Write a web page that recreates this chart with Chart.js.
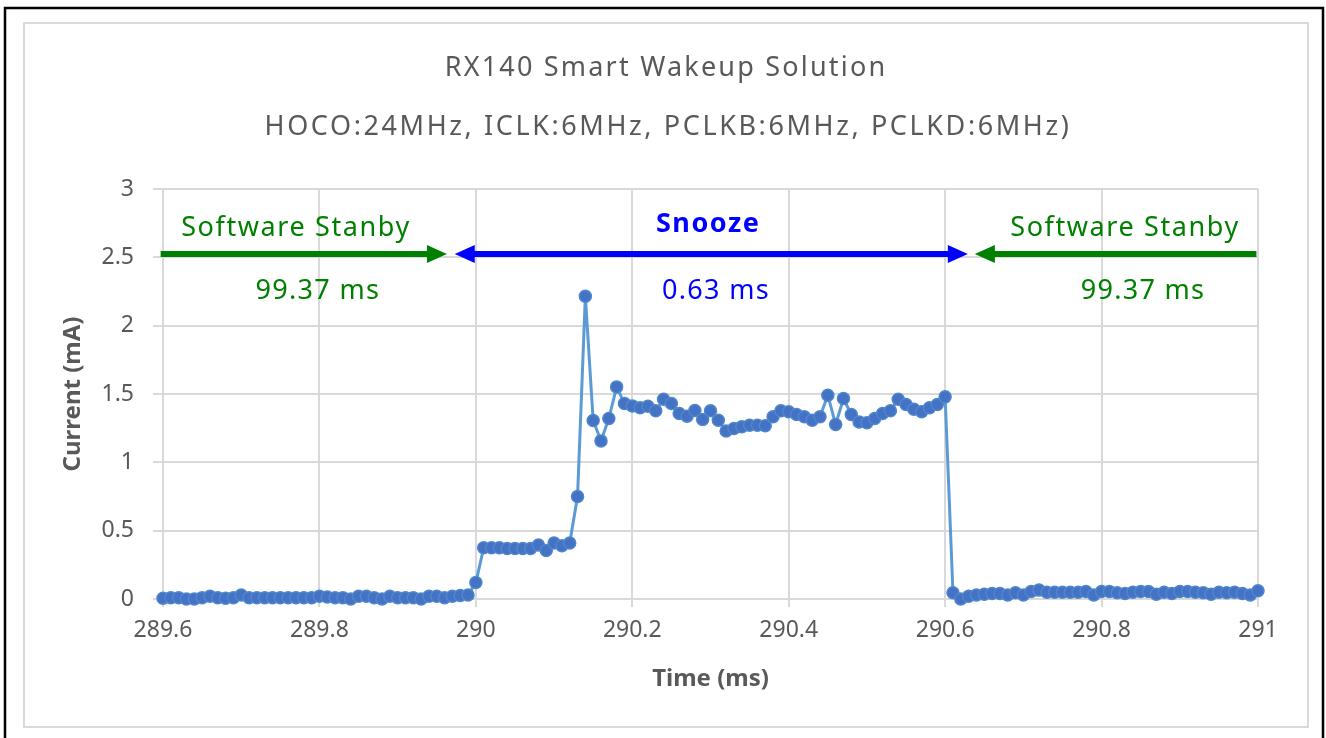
<!DOCTYPE html>
<html>
<head>
<meta charset="utf-8">
<script src="https://cdn.jsdelivr.net/npm/chart.js@4.4.1/dist/chart.umd.min.js"></script>
<style>
  body { margin: 0; background: #fff; }
  #myChart { display: block; }
</style>
</head>
<body>
<canvas id="myChart" width="1326" height="738"></canvas>
<script>
// sample timing (ms)
const startTime = 289.6;
const sampleStep = 0.01;

// current in mA
const standbyBefore = [
  0.005, 0.01, 0.01, 0.0, 0.0, 0.01, 0.02, 0.01, 0.005, 0.01,
  0.03, 0.01, 0.01, 0.01, 0.01, 0.01, 0.01, 0.01, 0.01, 0.01,
  0.02, 0.015, 0.01, 0.01, 0.0, 0.02, 0.02, 0.01, 0.0, 0.02,
  0.01, 0.01, 0.01, 0.0, 0.02, 0.02, 0.01, 0.02, 0.025, 0.03
];
const snooze = [
  0.12, 0.375, 0.375, 0.375, 0.37, 0.37, 0.37, 0.37, 0.395, 0.355,
  0.41, 0.39, 0.41, 0.75, 2.215, 1.306, 1.157, 1.32, 1.552, 1.43,
  1.413, 1.40, 1.41, 1.377, 1.462, 1.43, 1.357, 1.338, 1.38, 1.313,
  1.377, 1.308, 1.23, 1.247, 1.26, 1.272, 1.272, 1.267, 1.333, 1.377,
  1.37, 1.35, 1.333, 1.308, 1.333, 1.491, 1.277, 1.467, 1.35, 1.296,
  1.289, 1.32, 1.357, 1.377, 1.462, 1.423, 1.389, 1.37, 1.40, 1.423,
  1.479
];
const standbyAfter = [
  0.046, 0.0, 0.02, 0.03, 0.035, 0.04, 0.04, 0.03, 0.045, 0.03,
  0.055, 0.065, 0.05, 0.05, 0.05, 0.05, 0.05, 0.055, 0.03, 0.055,
  0.055, 0.045, 0.04, 0.05, 0.055, 0.055, 0.035, 0.05, 0.04, 0.055,
  0.055, 0.05, 0.045, 0.035, 0.05, 0.045, 0.05, 0.04, 0.03, 0.06
];

const titleText = 'RX140 Smart Wakeup Solution';
const subtitleText = 'HOCO:24MHz, ICLK:6MHz, PCLKB:6MHz, PCLKD:6MHz)';
const standbyLabel = 'Software Stanby';
const standbyTime = '99.37 ms';
const snoozeLabel = 'Snooze';
const snoozeTime = '0.63 ms';

const GREEN = '#008000';
const BLUE = '#0000ff';
const GREY = '#595959';
const FONT = '"Noto Sans", "Open Sans", sans-serif';

const current = standbyBefore.concat(snooze, standbyAfter);
const points = current.map((v, i) => ({ x: startTime + i * sampleStep, y: v }));

function arrow(ctx, x1, x2, y, color, headStart, headEnd) {
    const len = 20, half = 9;
    ctx.save();
    ctx.strokeStyle = color;
    ctx.fillStyle = color;
    ctx.lineWidth = 6;
    ctx.beginPath();
    ctx.moveTo(headStart ? x1 + len - 2 : x1, y);
    ctx.lineTo(headEnd ? x2 - len + 2 : x2, y);
    ctx.stroke();
    if (headEnd) {
        ctx.beginPath();
        ctx.moveTo(x2, y);
        ctx.lineTo(x2 - len, y - half);
        ctx.lineTo(x2 - len, y + half);
        ctx.closePath();
        ctx.fill();
    }
    if (headStart) {
        ctx.beginPath();
        ctx.moveTo(x1, y);
        ctx.lineTo(x1 + len, y - half);
        ctx.lineTo(x1 + len, y + half);
        ctx.closePath();
        ctx.fill();
    }
    ctx.restore();
}

function label(ctx, text, x, y, color, font, spacing) {
    ctx.save();
    ctx.font = font;
    ctx.fillStyle = color;
    ctx.textAlign = 'center';
    ctx.textBaseline = 'middle';
    ctx.letterSpacing = (spacing || 0) + 'px';
    ctx.fillText(text, x, y);
    ctx.restore();
}

// frame, titles and the state arrows
const decorations = {
    id: 'decorations',
    beforeDraw(chart) {
        const ctx = chart.ctx;
        ctx.save();
        ctx.fillStyle = '#fff';
        ctx.fillRect(0, 0, chart.width, chart.height);
        ctx.strokeStyle = '#000';
        ctx.lineWidth = 2.5;
        ctx.strokeRect(5, 8, 1318, 760);
        ctx.strokeStyle = '#d9d9d9';
        ctx.lineWidth = 2;
        ctx.strokeRect(24, 23, 1284, 704);
        ctx.restore();

        label(ctx, titleText, 666, 68, GREY, '27px ' + FONT, 2.2);
        label(ctx, subtitleText, 668, 127, GREY, '27px ' + FONT, 2.6);
    },
    afterDatasetsDraw(chart) {
        const ctx = chart.ctx;
        const xs = chart.scales.x, ys = chart.scales.y;
        const px = v => xs.getPixelForValue(v);
        const py = v => ys.getPixelForValue(v);
        const ay = py(2.525);

        arrow(ctx, px(289.597), px(289.963), ay, GREEN, false, true);
        arrow(ctx, px(289.973), px(290.629), ay, BLUE, true, true);
        arrow(ctx, px(290.638), px(290.998), ay, GREEN, true, false);

        label(ctx, standbyLabel, px(289.77), py(2.71), GREEN, '27px ' + FONT, 1.6);
        label(ctx, standbyTime, px(289.798), py(2.25), GREEN, '27px ' + FONT, 1.3);
        label(ctx, snoozeLabel, px(290.297), py(2.74), BLUE, 'bold 27px ' + FONT, 1.5);
        label(ctx, snoozeTime, px(290.307), py(2.25), BLUE, '27px ' + FONT, 1.3);
        label(ctx, standbyLabel, px(290.83), py(2.71), GREEN, '27px ' + FONT, 1.6);
        label(ctx, standbyTime, px(290.853), py(2.25), GREEN, '27px ' + FONT, 1.3);
    }
};

const ctx = document.getElementById('myChart').getContext('2d');
new Chart(ctx, {
    type: 'line',
    data: {
        datasets: [{
            data: points,
            borderColor: '#5b9bd5',
            borderWidth: 3,
            backgroundColor: '#4472c4',
            pointBackgroundColor: '#4472c4',
            pointBorderColor: '#4f86cc',
            pointBorderWidth: 1.5,
            pointRadius: 6,
            tension: 0,
            clip: false
        }]
    },
    options: {
        responsive: false,
        animation: false,
        events: [],
        layout: { padding: { top: 189, left: 24, right: 68, bottom: 11 } },
        plugins: {
            legend: { display: false },
            tooltip: { enabled: false }
        },
        scales: {
            x: {
                type: 'linear',
                min: 289.6,
                max: 291,
                afterFit: s => { s.height = 128; },
                grid: { color: '#d9d9d9', lineWidth: 2, tickLength: 8 },
                border: { color: '#d9d9d9', width: 2 },
                ticks: {
                    stepSize: 0.2,
                    padding: 10,
                    color: GREY,
                    font: { family: FONT, size: 23 },
                    maxRotation: 0,
                    callback: v => String(+v.toFixed(1))
                },
                title: {
                    display: true,
                    text: 'Time (ms)',
                    color: GREY,
                    font: { family: FONT, size: 24, weight: 'bold' },
                    padding: { top: 0, bottom: 33 }
                }
            },
            y: {
                min: 0,
                max: 3,
                afterFit: s => { s.width = 139; },
                grid: { color: '#d9d9d9', lineWidth: 2, tickLength: 10 },
                border: { color: '#d9d9d9', width: 2 },
                ticks: {
                    stepSize: 0.5,
                    padding: 19,
                    color: GREY,
                    font: { family: FONT, size: 23 },
                    callback: v => String(+v.toFixed(1))
                },
                title: {
                    display: true,
                    text: 'Current (mA)',
                    color: GREY,
                    font: { family: FONT, size: 24, weight: 'bold' },
                    padding: { top: 35, bottom: 0 }
                }
            }
        }
    },
    plugins: [decorations]
});
</script>
</body>
</html>
